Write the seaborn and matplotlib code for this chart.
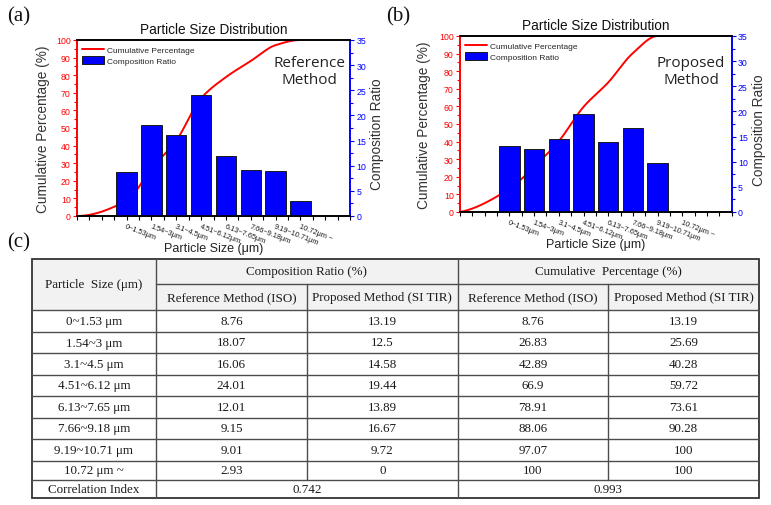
"""Particle size distribution: two bar/cumulative charts and a summary table."""
import matplotlib
matplotlib.use("Agg")
import matplotlib.pyplot as plt
import numpy as np
import seaborn as sns
from matplotlib.lines import Line2D
from matplotlib.patches import Patch, Rectangle

# ---- data ---------------------------------------------------------------
tick_labels = ["0~1.53μm", "1.54~3μm", "3.1~4.5μm", "4.51~6.12μm",
               "6.13~7.65μm", "7.66~9.18μm", "9.19~10.71μm", "10.72μm ~"]
size_labels = ["0~1.53 μm", "1.54~3 μm", "3.1~4.5 μm", "4.51~6.12 μm",
               "6.13~7.65 μm", "7.66~9.18 μm", "9.19~10.71 μm", "10.72 μm ~"]
bar_pos = [2, 3, 4, 5, 6, 7, 8, 9]

ref_ratio = [8.76, 18.07, 16.06, 24.01, 12.01, 9.15, 9.01, 2.93]
prop_ratio = [13.19, 12.5, 14.58, 19.44, 13.89, 16.67, 9.72, 0]
ref_cum = [8.76, 26.83, 42.89, 66.9, 78.91, 88.06, 97.07, 100]
prop_cum = [13.19, 25.69, 40.28, 59.72, 73.61, 90.28, 100, 100]
corr_index = ["0.742", "0.993"]

W, H = 771, 506
RED = "#ff0000"
BLUE = "#0000ff"
SANS = ["Liberation Sans", "DejaVu Sans"]
SERIF = ["Liberation Serif", "DejaVu Serif"]


def pchip(x, y, xs):
    """Monotone cubic curve through the points (smooth connector like Origin's spline)."""
    x = np.asarray(x, float)
    y = np.asarray(y, float)
    h = np.diff(x)
    delta = np.diff(y) / h
    n = len(x)
    d = np.zeros(n)
    for k in range(1, n - 1):
        if delta[k - 1] * delta[k] > 0:
            w1 = 2 * h[k] + h[k - 1]
            w2 = h[k] + 2 * h[k - 1]
            d[k] = (w1 + w2) / (w1 / delta[k - 1] + w2 / delta[k])

    def end(h0, h1, d0, d1):
        dd = ((2 * h0 + h1) * d0 - h0 * d1) / (h0 + h1)
        if np.sign(dd) != np.sign(d0):
            return 0.0
        if np.sign(d0) != np.sign(d1) and abs(dd) > abs(3 * d0):
            return 3 * d0
        return dd

    d[0] = end(h[0], h[1], delta[0], delta[1])
    d[-1] = end(h[-1], h[-2], delta[-1], delta[-2])
    idx = np.clip(np.searchsorted(x, xs) - 1, 0, n - 2)
    t = (xs - x[idx]) / h[idx]
    h00 = 2 * t**3 - 3 * t**2 + 1
    h10 = t**3 - 2 * t**2 + t
    h01 = -2 * t**3 + 3 * t**2
    h11 = t**3 - t**2
    return h00 * y[idx] + h10 * h[idx] * d[idx] + h01 * y[idx + 1] + h11 * h[idx] * d[idx + 1]


def px_rect(left, right, top, bottom):
    return [left / W, 1 - bottom / H, (right - left) / W, (bottom - top) / H]


def draw_panel(fig, rect, ratio, cum, note, note_y, xlab_y, ylab_x, ylab2_x):
    ax1 = fig.add_axes(rect)
    ax2 = ax1.twinx()

    cx = [0] + bar_pos
    cy = [0] + cum
    xs = np.linspace(cx[0], cx[-1], 400)
    sns.lineplot(x=xs, y=pchip(cx, cy, xs), ax=ax1, color=RED, linewidth=1.4,
                 estimator=None, sort=False)
    sns.barplot(x=bar_pos, y=ratio, ax=ax2, native_scale=True, color=BLUE,
                saturation=1, edgecolor="#1a1a1a", linewidth=0.7, width=0.82)

    ax1.set_xlim(0, 11)
    ax1.set_ylim(0, 100)
    ax2.set_ylim(0, 35)

    ax1.set_xticks(range(0, 12))
    ax1.set_xticklabels([tick_labels[i - 2] if 2 <= i <= 9 else "" for i in range(12)])
    ax1.set_xticks(np.arange(0.5, 11, 1), minor=True)
    for lab in ax1.get_xticklabels():
        lab.set_rotation(-21)
        lab.set_ha("left")
        lab.set_va("top")
        lab.set_rotation_mode("anchor")
    ax1.tick_params(axis="x", which="both", direction="out", length=3, width=0.8,
                    color="black", labelsize=5.3, pad=1.5, labelcolor="#1a1a1a")

    ax1.set_yticks(range(0, 101, 10))
    ax1.set_yticks(range(5, 100, 10), minor=True)
    ax1.tick_params(axis="y", which="both", direction="out", length=3, width=0.8,
                    color=RED, labelcolor=RED, labelsize=6.3, pad=1.5)
    ax1.tick_params(axis="y", which="minor", length=2)
    ax2.set_yticks(range(0, 36, 5))
    ax2.set_yticks(np.arange(2.5, 35, 5), minor=True)
    ax2.tick_params(axis="y", which="both", direction="out", length=3, width=0.8,
                    color=BLUE, labelcolor=BLUE, labelsize=6.3, pad=1.5)
    ax2.tick_params(axis="y", which="minor", length=2)

    for ax in (ax1, ax2):
        ax.spines["left"].set_color(RED)
        ax.spines["right"].set_color(BLUE)
        ax.spines["top"].set_color("black")
        ax.spines["bottom"].set_color("black")
        for s in ax.spines.values():
            s.set_linewidth(1.2)
            s.set_visible(True)

    ax1.set_title("Particle Size Distribution", fontsize=9.8, pad=5, family=SANS,
                  color="#111111")
    ax1.set_xlabel("Particle Size (μm)", fontsize=9, family=SANS, color="#222222")
    ax1.xaxis.set_label_coords(0.5, xlab_y)
    ax1.set_ylabel("Cumulative Percentage (%)", fontsize=9.8, family=SANS, color="#333333")
    ax1.yaxis.set_label_coords(ylab_x, 0.5)
    ax2.set_ylabel("Composition Ratio", fontsize=9.8, family=SANS, color="#333333")
    ax2.yaxis.set_label_coords(ylab2_x, 0.47)

    handles = [Line2D([], [], color=RED, linewidth=1.4),
               Patch(facecolor=BLUE, edgecolor="#1a1a1a", linewidth=0.7)]
    ax2.legend(handles, ["Cumulative Percentage", "Composition Ratio"], loc="upper left",
               frameon=False, prop={"family": SANS, "size": 6}, handlelength=2.6,
               handleheight=1.1, borderaxespad=0.35, borderpad=0.3, labelspacing=0.2,
               handletextpad=0.3)
    ax1.text(0.85, note_y, note, transform=ax1.transAxes, ha="center", va="center",
             fontsize=11, family=["Open Sans", "DejaVu Sans"], color="#222222",
             linespacing=1.15)
    return ax1, ax2


def draw_table(fig):
    tab = fig.add_axes([0, 0, 1, 1], zorder=-1)
    tab.set_xlim(0, W)
    tab.set_ylim(H, 0)
    tab.axis("off")

    cols = [32, 156, 307, 457.7, 608, 759]
    rows = [259.5, 285, 311, 332.7, 354.3, 375.7, 397.3, 418.7, 440.3, 461.7, 480.7, 499.3]
    lc = "#4d4d4d"
    fs = 9.4
    tkw = dict(ha="center", va="center", fontsize=fs, family=SERIF, color="#1a1a1a")

    tab.add_patch(Rectangle((cols[0], rows[0]), cols[-1] - cols[0], rows[2] - rows[0],
                            facecolor="#f2f2f2", edgecolor="none"))
    # horizontal rules
    tab.plot([cols[1], cols[-1]], [rows[1], rows[1]], color=lc, lw=1)
    for r in rows[2:-1]:
        tab.plot([cols[0], cols[-1]], [r, r], color=lc, lw=1)
    # vertical rules
    tab.plot([cols[1], cols[1]], [rows[0], rows[-1]], color=lc, lw=1)
    tab.plot([cols[3], cols[3]], [rows[0], rows[-1]], color=lc, lw=1)
    for c in (cols[2], cols[4]):
        tab.plot([c, c], [rows[1], rows[-2]], color=lc, lw=1)
    tab.add_patch(Rectangle((cols[0], rows[0]), cols[-1] - cols[0], rows[-1] - rows[0],
                            facecolor="none", edgecolor="#333333", lw=1.3))

    mid = lambda a, b: (a + b) / 2
    tab.text(mid(cols[0], cols[1]), mid(rows[0], rows[2]), "Particle  Size (μm)", **tkw)
    tab.text(mid(cols[1], cols[3]), mid(rows[0], rows[1]), "Composition Ratio (%)", **tkw)
    tab.text(mid(cols[3], cols[5]), mid(rows[0], rows[1]), "Cumulative  Percentage (%)", **tkw)
    subs = ["Reference Method (ISO)", "Proposed Method (SI TIR)"] * 2
    for j, s in enumerate(subs):
        tab.text(mid(cols[j + 1], cols[j + 2]), mid(rows[1], rows[2]), s, **tkw)

    for i, lab in enumerate(size_labels):
        y = mid(rows[i + 2], rows[i + 3])
        vals = [ref_ratio[i], prop_ratio[i], ref_cum[i], prop_cum[i]]
        tab.text(mid(cols[0], cols[1]), y, lab, **tkw)
        for j, v in enumerate(vals):
            tab.text(mid(cols[j + 1], cols[j + 2]), y, f"{v:g}", **tkw)

    y = mid(rows[-2], rows[-1])
    tab.text(mid(cols[0], cols[1]), y, "Correlation Index", **tkw)
    tab.text(mid(cols[1], cols[3]), y, corr_index[0], **tkw)
    tab.text(mid(cols[3], cols[5]), y, corr_index[1], **tkw)


def main() -> None:
    sns.set_style("ticks")
    plt.rcParams["font.family"] = SANS

    fig = plt.figure(figsize=(W / 100, H / 100), dpi=100)
    draw_table(fig)

    draw_panel(fig, px_rect(77, 350, 41, 217), ref_ratio, ref_cum,
               "Reference\nMethod", 0.824, -0.15, -0.099, 1.073)
    draw_panel(fig, px_rect(460, 731.7, 37, 213), prop_ratio, prop_cum,
               "Proposed\nMethod", 0.80, -0.145, -0.107, 1.075)

    for txt, x, y in [("(a)", 19, 17), ("(b)", 398, 17), ("(c)", 19, 243)]:
        fig.text(x / W, 1 - y / H, txt, ha="center", va="center", fontsize=15,
                 family=SERIF, color="#111111")

    fig.savefig("out.png", dpi=100)
    plt.close(fig)


if __name__ == "__main__":
    main()
